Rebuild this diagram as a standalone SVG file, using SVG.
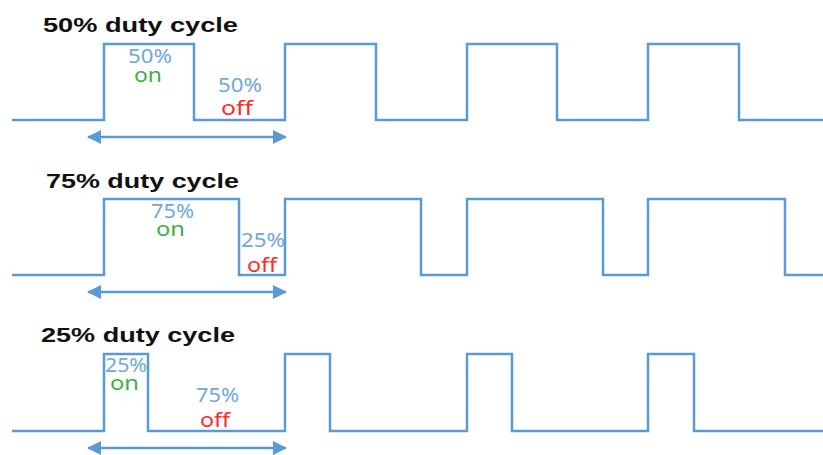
<svg xmlns="http://www.w3.org/2000/svg" width="823" height="455" viewBox="0 0 823 455">
  <defs>
    <marker id="head" viewBox="0 0 14 14" refX="13" refY="7" markerWidth="14" markerHeight="14" markerUnits="userSpaceOnUse" orient="auto-start-reverse">
      <path d="M0,0 L14,7 L0,14 Z" fill="#5b9bd5"/>
    </marker>
  </defs>
  <style>
    .wave { fill: none; stroke: #5b9bd5; stroke-width: 2.5; stroke-linejoin: miter; }
    .span { stroke: #5b9bd5; stroke-width: 2.5; marker-start: url(#head); marker-end: url(#head); }
    .title { font-family: "Liberation Sans", Arial, sans-serif; font-weight: bold; font-size: 21px; fill: #111; }
    .lbl { font-family: "Noto Sans", "Open Sans", sans-serif; font-size: 19px; }
    .pct { fill: #6fa8dc; }
    .on { fill: #3cb043; }
    .off { fill: #ff2a2a; }
  </style>
  <rect width="823" height="455" fill="#ffffff"/>

  <!-- 50% duty cycle -->
  <g id="duty50">
    <text class="title" x="43" y="32" textLength="195" lengthAdjust="spacingAndGlyphs">50% duty cycle</text>
    <path class="wave" d="M12,120 H104 V44 H194 V120 H285 V44 H376 V120 H467 V44 H557 V120 H648 V44 H739 V120 H823"/>
    <text class="lbl pct" x="128" y="63" textLength="44" lengthAdjust="spacingAndGlyphs">50%</text>
    <text class="lbl on" x="134" y="82" textLength="28" lengthAdjust="spacingAndGlyphs">on</text>
    <text class="lbl pct" x="218" y="92" textLength="44" lengthAdjust="spacingAndGlyphs">50%</text>
    <text class="lbl off" x="221" y="115" textLength="32" lengthAdjust="spacingAndGlyphs">off</text>
  </g>

  <!-- 75% duty cycle -->
  <g id="duty75">
    <text class="title" x="46" y="188" textLength="193" lengthAdjust="spacingAndGlyphs">75% duty cycle</text>
    <path class="wave" d="M12,275 H104 V199 H239 V275 H285 V199 H421 V275 H467 V199 H603 V275 H648 V199 H785 V275 H823"/>
    <text class="lbl pct" x="151" y="218" textLength="43" lengthAdjust="spacingAndGlyphs">75%</text>
    <text class="lbl on" x="156" y="236" textLength="29" lengthAdjust="spacingAndGlyphs">on</text>
    <text class="lbl pct" x="241" y="247" textLength="44" lengthAdjust="spacingAndGlyphs">25%</text>
    <text class="lbl off" x="247" y="272" textLength="30" lengthAdjust="spacingAndGlyphs">off</text>
  </g>

  <!-- 25% duty cycle -->
  <g id="duty25">
    <text class="title" x="41" y="342" textLength="194" lengthAdjust="spacingAndGlyphs">25% duty cycle</text>
    <path class="wave" d="M12,431 H104 V354 H148 V431 H285 V354 H330 V431 H467 V354 H512 V431 H648 V354 H694 V431 H823"/>
    <text class="lbl pct" x="105" y="372" textLength="42" lengthAdjust="spacingAndGlyphs">25%</text>
    <text class="lbl on" x="110" y="390" textLength="29" lengthAdjust="spacingAndGlyphs">on</text>
    <text class="lbl pct" x="196" y="402" textLength="43" lengthAdjust="spacingAndGlyphs">75%</text>
    <text class="lbl off" x="200" y="427" textLength="30" lengthAdjust="spacingAndGlyphs">off</text>
  </g>

  <!-- period arrows -->
  <g id="periods">
    <line class="span" x1="88" y1="137" x2="286" y2="137"/>
    <line class="span" x1="88" y1="292" x2="286" y2="292"/>
    <line class="span" x1="88" y1="448" x2="286" y2="448"/>
  </g>
</svg>
